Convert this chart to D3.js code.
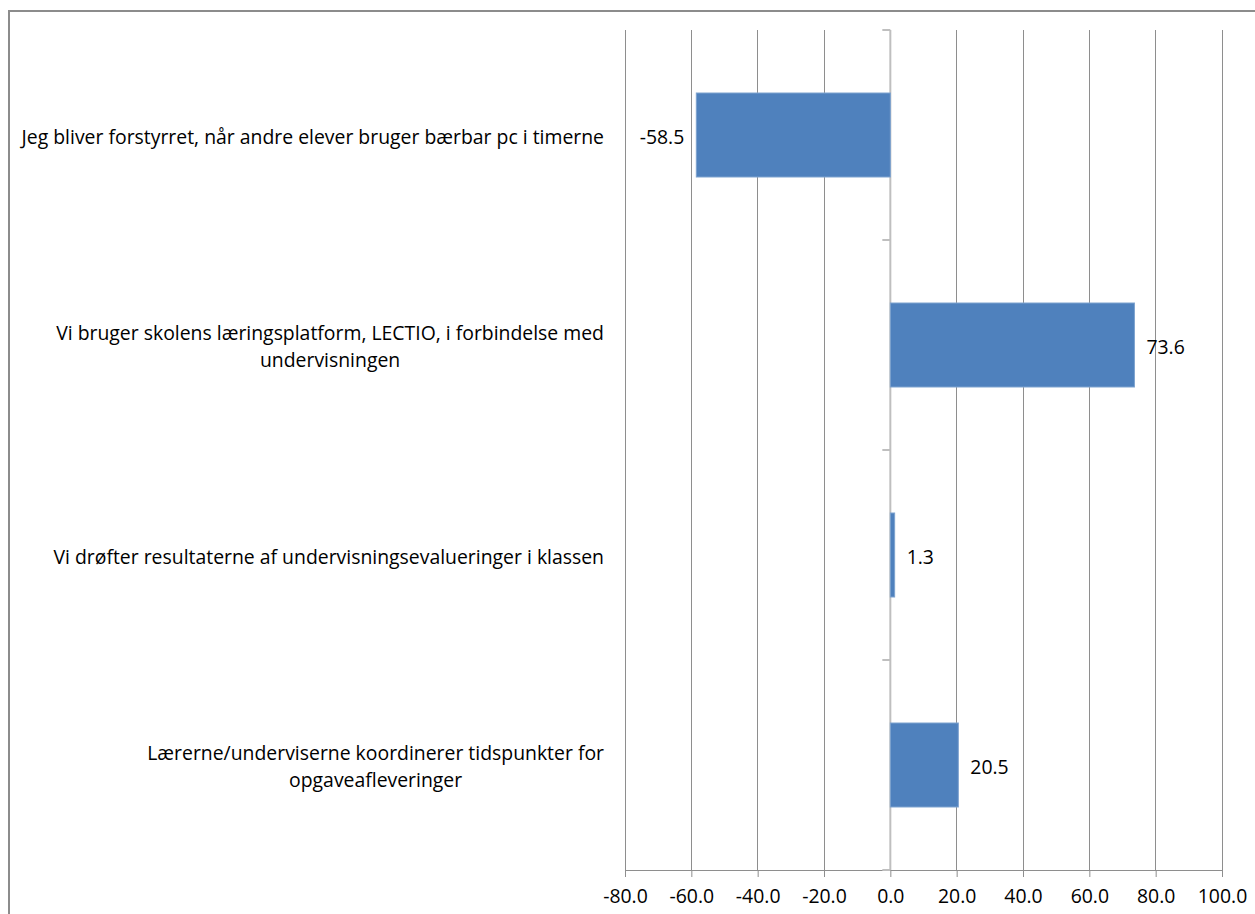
<!DOCTYPE html>
<html><head><meta charset="utf-8">
<script src="https://cdn.jsdelivr.net/npm/d3@7"></script>
<style>body{margin:0;background:#fff}svg{display:block}</style>
</head><body>
<svg id="c" width="1255" height="914"></svg>
<script>
const categories = [
  ["Jeg bliver forstyrret, når andre elever bruger bærbar pc i timerne"],
  ["Vi bruger skolens læringsplatform, LECTIO, i forbindelse med", "undervisningen"],
  ["Vi drøfter resultaterne af undervisningsevalueringer i klassen"],
  ["Lærerne/underviserne koordinerer tidspunkter for", "opgaveafleveringer"]
];
const values = [-58.5, 73.6, 1.3, 20.5];
const tickValues = [-80, -60, -40, -20, 0, 20, 40, 60, 80, 100];

const FONT = "'Open Sans', sans-serif";
const FS = 19.4;
const svg = d3.select("#c");
// outer frame
svg.append("rect").attr("x", 9).attr("y", 11).attr("width", 1300).attr("height", 1000)
  .attr("fill", "none").attr("stroke", "#8c8c8c").attr("stroke-width", 2);

const x = d3.scaleLinear().domain([-80, 100]).range([625, 1222]);
const y = d3.scaleBand().domain(d3.range(categories.length)).range([30, 870]).paddingInner(0.6).paddingOuter(0.3);
const yb = d3.scaleBand().domain(d3.range(categories.length)).range([30, 870]);

// gridlines
svg.append("g").selectAll("line").data(tickValues).join("line")
  .attr("x1", d => x(d)).attr("x2", d => x(d)).attr("y1", 30).attr("y2", 870)
  .attr("stroke", "#8e8e8e").attr("stroke-width", 1).attr("shape-rendering", "crispEdges");

// bottom axis
const xa = svg.append("g").attr("transform", "translate(0,870)")
  .call(d3.axisBottom(x).tickValues(tickValues).tickFormat(d3.format(".1f")).tickSizeOuter(0).tickSize(7).tickPadding(12));
xa.select(".domain").attr("stroke", "#8e8e8e");
xa.selectAll(".tick line").attr("stroke", "#8e8e8e");
xa.selectAll("text").attr("font-family", FONT).attr("font-size", FS).attr("fill", "#000")
  .text(d => d3.format(".1f")(d).replace("−", "-"));

// zero axis (category axis)
const zx = x(0);
svg.append("line").attr("x1", zx).attr("x2", zx).attr("y1", 30).attr("y2", 870)
  .attr("stroke", "#bfbfbf").attr("stroke-width", 2);
svg.append("g").selectAll("line").data(d3.range(categories.length + 1)).join("line")
  .attr("x1", zx - 8).attr("x2", zx).attr("y1", d => 30 + d * yb.step()).attr("y2", d => 30 + d * yb.step())
  .attr("stroke", "#bfbfbf").attr("stroke-width", 2);

// bars
svg.append("g").selectAll("rect").data(values).join("rect")
  .attr("x", d => Math.min(x(d), x(0))).attr("width", d => Math.abs(x(d) - x(0)))
  .attr("y", (d, i) => y(i)).attr("height", y.bandwidth())
  .attr("fill", "#4f81bd").attr("stroke", "#7ea3cf").attr("stroke-width", 1);

// value labels
svg.append("g").selectAll("text").data(values).join("text")
  .attr("x", d => d < 0 ? x(d) - 12 : x(d) + 12)
  .attr("y", (d, i) => yb(i) + yb.bandwidth() / 2 + 2)
  .attr("dy", "0.35em")
  .attr("text-anchor", d => d < 0 ? "end" : "start")
  .attr("font-family", FONT).attr("font-size", FS).attr("fill", "#000")
  .text(d => d3.format(".1f")(d).replace("−", "-"));

// category labels
const labelRight = 604, lineH = 27;
categories.forEach((lines, i) => {
  const cy = yb(i) + yb.bandwidth() / 2 + 2;
  const g = svg.append("g");
  const texts = lines.map((l, k) => g.append("text")
    .attr("y", cy + (k - (lines.length - 1) / 2) * lineH)
    .attr("dy", "0.35em")
    .attr("font-family", FONT).attr("font-size", FS).attr("fill", "#000")
    .attr("text-anchor", "middle").text(l));
  const maxW = d3.max(texts, t => t.node().getComputedTextLength());
  texts.forEach(t => t.attr("x", labelRight - maxW / 2));
});
</script>
</body></html>
